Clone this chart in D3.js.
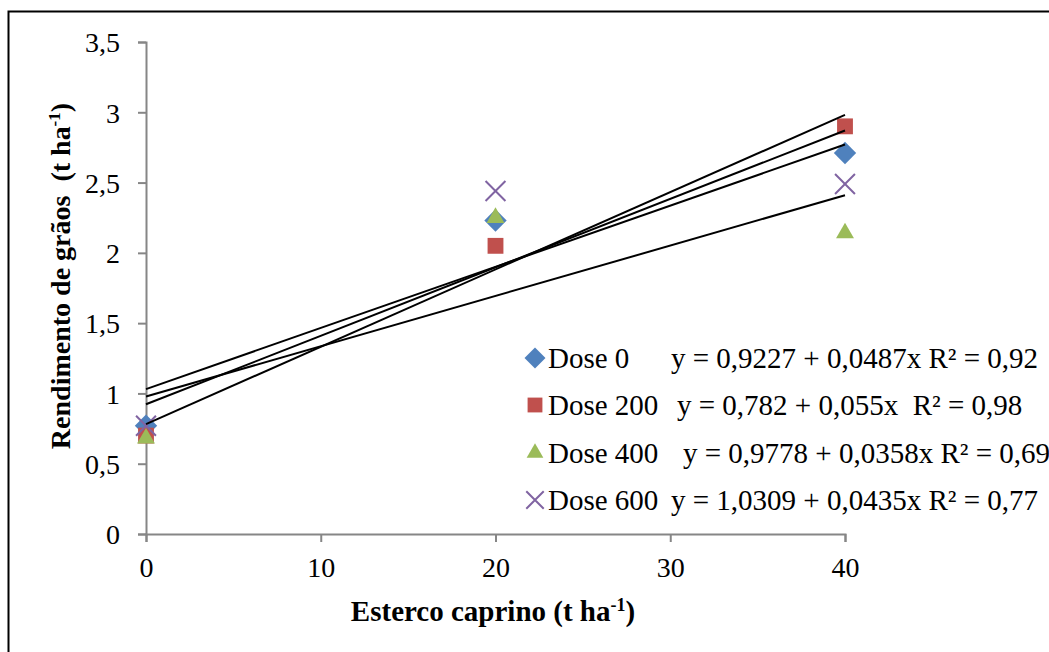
<!DOCTYPE html>
<html>
<head>
<meta charset="utf-8">
<script src="https://cdn.jsdelivr.net/npm/d3@7"></script>
<style>
  body { margin: 0; background: #fff; }
  svg text { font-family: "Liberation Serif", "Times New Roman", "DejaVu Serif", serif !important; }
</style>
</head>
<body>
<div id="chart"></div>
<script>
// values
const esterco = [0, 20, 40];
const seriesNames = ["Dose 0", "Dose 200", "Dose 400", "Dose 600"];
const dose0 = [0.77, 2.23, 2.71];
const dose200 = [0.70, 2.05, 2.90];
const dose400 = [0.68, 2.25, 2.14];
const dose600 = [0.77, 2.44, 2.49];
const intercepts = [0.9227, 0.782, 0.9778, 1.0309];
const slopes = [0.0487, 0.055, 0.0358, 0.0435];
const equations = [
  "y = 0,9227 + 0,0487x R² = 0,92",
  "y = 0,782 + 0,055x\u00a0 R² = 0,98",
  "y = 0,9778 + 0,0358x R² = 0,69",
  "y = 1,0309 + 0,0435x R² = 0,77"
];
const xTicks = [0, 10, 20, 30, 40];
const yTicks = [0, 0.5, 1, 1.5, 2, 2.5, 3, 3.5];

const colors = ["#4F81BD", "#C0504D", "#9BBB59", "#8064A2"];
const symbols = [d3.symbolDiamond2, d3.symbolSquare2, d3.symbolTriangle2, d3.symbolTimes];

const W = 1049, H = 652;
const plot = { left: 146, right: 845, top: 42, bottom: 534 };

const svg = d3.select("#chart").append("svg")
  .attr("width", W).attr("height", H);

// outer frame (runs off the right and bottom edges)
svg.append("rect")
  .attr("x", 8.5).attr("y", 11.5)
  .attr("width", 1100).attr("height", 700)
  .attr("fill", "none").attr("stroke", "#000").attr("stroke-width", 2);

const x = d3.scaleLinear().domain([0, 40]).range([plot.left, plot.right]);
const y = d3.scaleLinear().domain([0, 3.5]).range([plot.bottom, plot.top]);
const fmt = d => String(d).replace(".", ",");

// axes
const yAxis = svg.append("g")
  .attr("transform", "translate(" + plot.left + ",0)")
  .call(d3.axisLeft(y).tickValues(yTicks).tickFormat(fmt).tickSize(8).tickPadding(18));
const xAxis = svg.append("g")
  .attr("transform", "translate(0," + plot.bottom + ")")
  .call(d3.axisBottom(x).tickValues(xTicks).tickFormat(fmt).tickSize(8).tickPadding(10));

[xAxis, yAxis].forEach(g => {
  g.attr("font-family", null).attr("font-size", null);
  g.select(".domain").attr("stroke", "#868686").attr("stroke-width", 2);
  g.selectAll(".tick line").attr("stroke", "#868686").attr("stroke-width", 2);
  g.selectAll(".tick text")
    .attr("fill", "#000")
    .style("font-size", "28px");
});
xAxis.selectAll(".tick text").attr("dy", "0.9em");
yAxis.selectAll(".tick text").attr("dy", "0.35em");

// axis titles
const xTitle = svg.append("text")
  .attr("x", 493).attr("y", 621)
  .attr("text-anchor", "middle")
  .style("font-size", "29px").style("font-weight", "bold");
xTitle.append("tspan").text("Esterco caprino (t ha");
xTitle.append("tspan").attr("dy", -10).style("font-size", "18px").text("-1");
xTitle.append("tspan").attr("dy", 10).text(")");

const yTitle = svg.append("text")
  .attr("transform", "translate(70,276) rotate(-90)")
  .attr("text-anchor", "middle")
  .style("font-size", "28px").style("font-weight", "bold");
yTitle.append("tspan").text("Rendimento de grãos\u00a0 (t ha");
yTitle.append("tspan").attr("dy", -10).style("font-size", "17px").text("-1");
yTitle.append("tspan").attr("dy", 10).text(")");

// points
const allSeries = [dose0, dose200, dose400, dose600];
allSeries.forEach((vals, i) => {
  const sym = d3.symbol().type(symbols[i]).size(i === 3 ? 260 : (i === 2 ? 230 : 320));
  svg.append("g").selectAll("path")
    .data(vals.map((v, j) => [esterco[j], v]))
    .enter().append("path")
    .attr("transform", d => "translate(" + x(d[0]) + "," + y(d[1]) + ")")
    .attr("d", sym)
    .attr("fill", i === 3 ? "none" : colors[i])
    .attr("stroke", i === 3 ? colors[i] : "none")
    .attr("stroke-width", 2);
});

// trend lines
intercepts.forEach((a, i) => {
  svg.append("line")
    .attr("x1", x(0)).attr("y1", y(a))
    .attr("x2", x(40)).attr("y2", y(a + slopes[i] * 40))
    .attr("stroke", "#000").attr("stroke-width", 2);
});

// legend
const legendY = [358, 405, 453, 500];
const eqX = [671, 677, 683, 671];
seriesNames.forEach((name, i) => {
  const sym = d3.symbol().type(symbols[i]).size(i === 3 ? 200 : (i === 2 ? 200 : 280));
  svg.append("path")
    .attr("transform", "translate(535," + legendY[i] + ")")
    .attr("d", sym)
    .attr("fill", i === 3 ? "none" : colors[i])
    .attr("stroke", i === 3 ? colors[i] : "none")
    .attr("stroke-width", 2);
  svg.append("text")
    .attr("x", 548).attr("y", legendY[i] + 10)
    .style("font-size", "29px")
    .text(name);
  svg.append("text")
    .attr("x", eqX[i]).attr("y", legendY[i] + 10)
    .style("font-size", "29px")
    .text(equations[i]);
});
</script>
</body>
</html>
